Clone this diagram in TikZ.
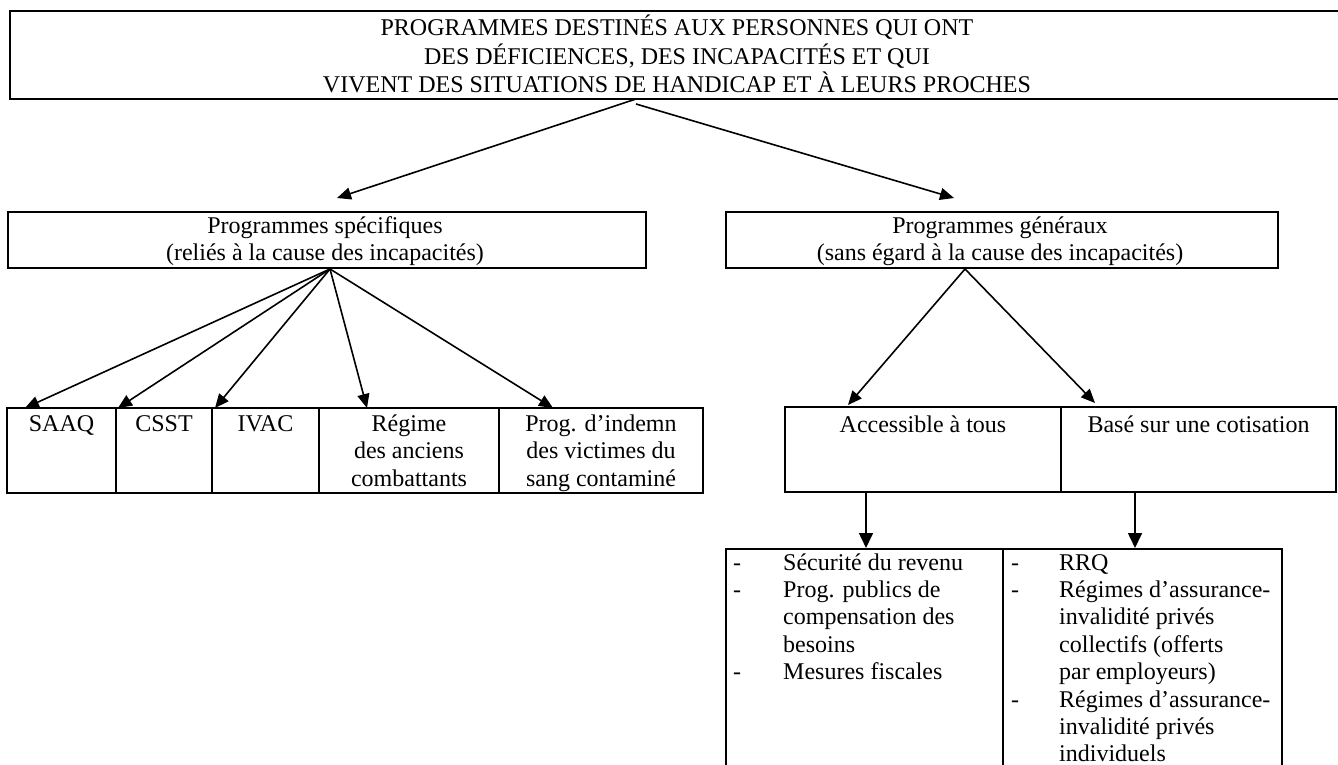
\documentclass[tikz,border=0pt]{standalone}
\usepackage{fontspec}
\setmainfont{Liberation Serif}
\usetikzlibrary{arrows.meta}
\newcommand\mylines[1]{\begin{tabular}[t]{@{}c@{}}#1\end{tabular}}
\begin{document}
\begin{tikzpicture}[x=1pt,y=-1pt,
  box/.style={draw=black, line width=2pt, inner sep=0pt, outer sep=0pt, anchor=north west},
  txt/.style={inner sep=0pt, anchor=base, font=\fontsize{24}{27.6}\selectfont},
  listtxt/.style={inner sep=0pt, anchor=base west, font=\fontsize{24}{27.4}\selectfont},
  arr/.style={line width=1.6pt, -{Triangle[length=14pt,width=12pt]}},
  varr/.style={line width=1.6pt, -{Triangle[length=15pt,width=14pt]}}]
\useasboundingbox (0,0) rectangle (1338,765);
\clip (0,0) rectangle (1338,765);

% title
\node[box, line width=2.5pt, minimum width=1336pt, minimum height=88pt] (title) at (10,11) {};
\node[txt, font=\fontsize{24}{27}\selectfont] (titletxt) at (677,35.5) {\mylines{PROGRAMMES DESTINÉS AUX PERSONNES QUI ONT\\DES DÉFICIENCES, DES INCAPACITÉS ET QUI\\VIVENT DES SITUATIONS DE HANDICAP ET À LEURS PROCHES}};

% middle level
\node[box, minimum width=638pt, minimum height=56pt] (spec) at (8,212) {};
\node[txt] (spectxt) at (325,233) {\mylines{Programmes spécifiques\\(reliés à la cause des incapacités)}};
\node[box, minimum width=552pt, minimum height=56pt] (gen) at (726,212) {};
\node[txt] (gentxt) at (1000,233) {\mylines{Programmes généraux\\(sans égard à la cause des incapacités)}};

% specific programmes
\node[box, minimum width=109pt, minimum height=85pt] (saaq) at (7,408) {};
\node[box, minimum width=96pt, minimum height=85pt] (csst) at (116,408) {};
\node[box, minimum width=107pt, minimum height=85pt] (ivac) at (212,408) {};
\node[box, minimum width=180pt, minimum height=85pt] (regime) at (319,408) {};
\node[box, minimum width=204pt, minimum height=85pt] (indemn) at (499,408) {};
\node[txt] (saaqtxt) at (61.5,431) {SAAQ};
\node[txt] (cssttxt) at (164,431) {CSST};
\node[txt] (ivactxt) at (265.5,431) {IVAC};
\node[txt] (regimetxt) at (409,431) {\mylines{Régime\\des anciens\\combattants}};
\node[txt] (indemntxt) at (601,431) {\mylines{Prog. d’indemn\\des victimes du\\sang contaminé}};

% general programmes
\node[box, minimum width=276pt, minimum height=85pt] (acces) at (785,407) {};
\node[box, minimum width=275pt, minimum height=85pt] (cotis) at (1061,407) {};
\node[txt] (accestxt) at (923,432) {Accessible à tous};
\node[txt] (cotistxt) at (1198.5,432) {Basé sur une cotisation};

% lists
\node[box, minimum width=277pt, minimum height=240pt] (listA) at (726,549) {};
\node[box, minimum width=279pt, minimum height=240pt] (listB) at (1003,549) {};
\node[listtxt] (listAtxt) at (733,570) {\begin{tabular}[t]{@{}p{50pt}@{}l@{}}-&Sécurité du revenu\\-&Prog. publics de\\&compensation des\\&besoins\\-&Mesures fiscales\end{tabular}};
\node[listtxt] (listBtxt) at (1011,570) {\begin{tabular}[t]{@{}p{48pt}@{}l@{}}-&RRQ\\-&Régimes d’assurance-\\&invalidité privés\\&collectifs (offerts\\&par employeurs)\\-&Régimes d’assurance-\\&invalidité privés\\&individuels\end{tabular}};

% connector points
\coordinate (t1) at (636,99);
\coordinate (t2) at (636,104);
\coordinate (tipspec) at (337,198);
\coordinate (tipgen) at (954,198);
\coordinate (fanL) at (330,269);
\coordinate (tipsaaq) at (25,408);
\coordinate (tipcsst) at (118,408);
\coordinate (tipivac) at (215,408);
\coordinate (tipregime) at (367,408);
\coordinate (tipindemn) at (553,408);
\coordinate (fanR) at (965,269);
\coordinate (tipacces) at (848,405);
\coordinate (tipcotis) at (1095,403);
\coordinate (a1) at (866,491);
\coordinate (a2) at (1135,491);
\coordinate (tipA) at (866,548);
\coordinate (tipB) at (1135,548);

\draw[arr] (t1) -- (tipspec);
\draw[arr] (t2) -- (tipgen);
\draw[arr] (fanL) -- (tipsaaq);
\draw[arr] (fanL) -- (tipcsst);
\draw[arr] (fanL) -- (tipivac);
\draw[arr] (fanL) -- (tipregime);
\draw[arr] (fanL) -- (tipindemn);
\draw[arr] (fanR) -- (tipacces);
\draw[arr] (fanR) -- (tipcotis);
\draw[varr] (a1) -- (tipA);
\draw[varr] (a2) -- (tipB);
\end{tikzpicture}
\end{document}
